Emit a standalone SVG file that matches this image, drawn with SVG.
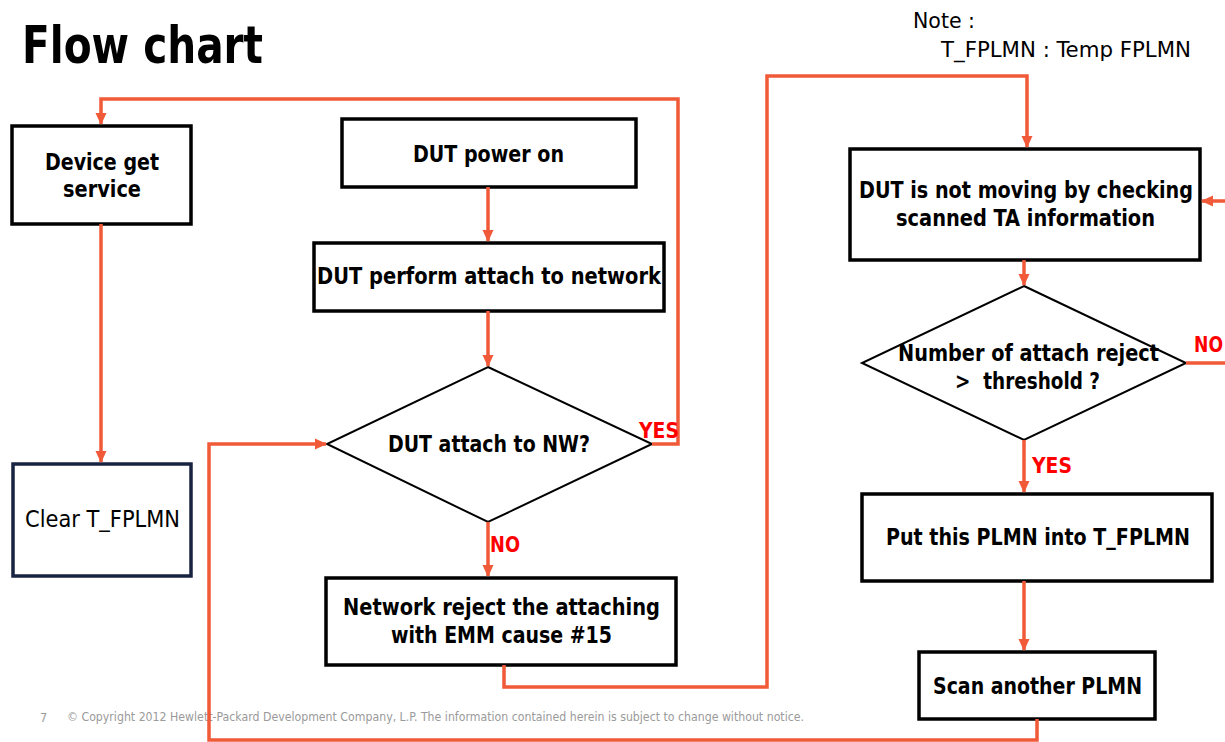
<svg xmlns="http://www.w3.org/2000/svg" width="1225" height="742" viewBox="0 0 1225 742">
<style>
.box{fill:#fff;stroke:#000;stroke-width:3.5}
.dia{fill:#fff;stroke:#000;stroke-width:2}
.t{font-family:"Liberation Sans Narrow","DejaVu Sans Condensed","Liberation Sans",sans-serif;font-weight:bold;font-size:23px;fill:#000}
.n{font-family:"Liberation Sans Narrow","DejaVu Sans Condensed","Liberation Sans",sans-serif;font-size:23px;fill:#000}
.title{font-family:"Liberation Sans Narrow","DejaVu Sans Condensed","Liberation Sans",sans-serif;font-weight:bold;font-size:52px;fill:#000}
.note{font-family:"Liberation Sans Narrow","DejaVu Sans Condensed","Liberation Sans",sans-serif;font-size:22px;fill:#000}
.lab{font-family:"Liberation Sans Narrow","DejaVu Sans Condensed","Liberation Sans",sans-serif;font-weight:bold;font-size:22px;fill:#ff0000}
.c{fill:none;stroke:#f05a38;stroke-width:3.5}
.foot{font-family:"Liberation Sans Narrow","DejaVu Sans Condensed","Liberation Sans",sans-serif;font-size:12.5px;fill:#9a9a9a}
</style>
<defs>
<marker id="ah" markerUnits="userSpaceOnUse" markerWidth="12" markerHeight="12" viewBox="0 0 12 12" refX="11" refY="6" orient="auto">
<path d="M0,0.5 L12,6 L0,11.5 Z" fill="#f05a38"/>
</marker>
</defs>
<rect width="1225" height="742" fill="#fff"/>
<text x="22" y="63" class="title" textLength="241" lengthAdjust="spacingAndGlyphs">Flow chart</text>
<g id="note">
<text x="913" y="28" class="note" textLength="62" lengthAdjust="spacingAndGlyphs">Note :</text>
<text x="941" y="57" class="note" textLength="250" lengthAdjust="spacingAndGlyphs">T_FPLMN : Temp FPLMN</text>
</g>
<g id="footer">
<text x="40" y="722" class="foot">7</text>
<text x="67" y="721" class="foot" textLength="737" lengthAdjust="spacingAndGlyphs">© Copyright 2012 Hewlett-Packard Development Company, L.P.  The information contained herein is subject to change without notice.</text>
</g>
<g id="n-device">
<rect x="12" y="126" width="179" height="98" class="box"/>
<text x="45" y="170" class="t" textLength="114" lengthAdjust="spacingAndGlyphs">Device get</text>
<text x="63" y="197" class="t" textLength="78" lengthAdjust="spacingAndGlyphs">service</text>
</g>
<g id="n-clear">
<rect x="13" y="464" width="178" height="112" fill="#fff" stroke="#172340" stroke-width="3.5"/>
<text x="25" y="527" class="n" textLength="155" lengthAdjust="spacingAndGlyphs">Clear T_FPLMN</text>
</g>
<g id="n-power">
<rect x="342" y="119" width="294" height="68" class="box"/>
<text x="413" y="162" class="t" textLength="151" lengthAdjust="spacingAndGlyphs">DUT power on</text>
</g>
<g id="n-attach">
<rect x="314" y="243" width="350" height="68" class="box"/>
<text x="317" y="284" class="t" textLength="344" lengthAdjust="spacingAndGlyphs">DUT perform attach to network</text>
</g>
<g id="n-dec1">
<polygon points="488,367 652,444 488,522 327,444" class="dia"/>
<text x="388" y="452" class="t" textLength="202" lengthAdjust="spacingAndGlyphs">DUT attach to NW?</text>
</g>
<g id="n-reject">
<rect x="326" y="578" width="350" height="87" class="box"/>
<text x="343" y="615" class="t" textLength="317" lengthAdjust="spacingAndGlyphs">Network reject the attaching</text>
<text x="391" y="643" class="t" textLength="221" lengthAdjust="spacingAndGlyphs">with EMM cause #15</text>
</g>
<g id="n-moving">
<rect x="850" y="149" width="350" height="111" class="box"/>
<text x="859" y="198" class="t" textLength="334" lengthAdjust="spacingAndGlyphs">DUT is not moving by checking</text>
<text x="896" y="226" class="t" textLength="259" lengthAdjust="spacingAndGlyphs">scanned TA information</text>
</g>
<g id="n-dec2">
<polygon points="1024,286 1186,363 1024,440 862,363" class="dia"/>
<text x="898" y="361" class="t" textLength="261" lengthAdjust="spacingAndGlyphs">Number of attach reject</text>
<text x="955" y="389" class="t" textLength="145" lengthAdjust="spacingAndGlyphs">&gt;&#160; threshold ?</text>
</g>
<g id="n-put">
<rect x="862" y="494" width="350" height="87" class="box"/>
<text x="886" y="545" class="t" textLength="304" lengthAdjust="spacingAndGlyphs">Put this PLMN into T_FPLMN</text>
</g>
<g id="n-scan">
<rect x="919" y="652" width="236" height="67" class="box"/>
<text x="933" y="694" class="t" textLength="209" lengthAdjust="spacingAndGlyphs">Scan another PLMN</text>
</g>
<g id="connectors">
<path class="c" d="M652,444 H678 V99 H101 V124" marker-end="url(#ah)"/>
<path class="c" d="M101,224 V462" marker-end="url(#ah)"/>
<path class="c" d="M488,187 V241" marker-end="url(#ah)"/>
<path class="c" d="M488,311 V366" marker-end="url(#ah)"/>
<path class="c" d="M488,522 V576" marker-end="url(#ah)"/>
<path class="c" d="M504,665 V687 H767 V76 H1027 V147" marker-end="url(#ah)"/>
<path class="c" d="M1024,260 V285" marker-end="url(#ah)"/>
<path class="c" d="M1186,363 H1228 V201 H1202" marker-end="url(#ah)"/>
<path class="c" d="M1024,440 V492" marker-end="url(#ah)"/>
<path class="c" d="M1024,581 V650" marker-end="url(#ah)"/>
<path class="c" d="M1037,719 V740 H209 V444 H326" marker-end="url(#ah)"/>
</g>
<g id="labels">
<text x="639" y="438" class="lab" textLength="40" lengthAdjust="spacingAndGlyphs">YES</text>
<text x="490" y="552" class="lab" textLength="30" lengthAdjust="spacingAndGlyphs">NO</text>
<text x="1194" y="352" class="lab" textLength="29" lengthAdjust="spacingAndGlyphs">NO</text>
<text x="1032" y="473" class="lab" textLength="40" lengthAdjust="spacingAndGlyphs">YES</text>
</g>
</svg>
